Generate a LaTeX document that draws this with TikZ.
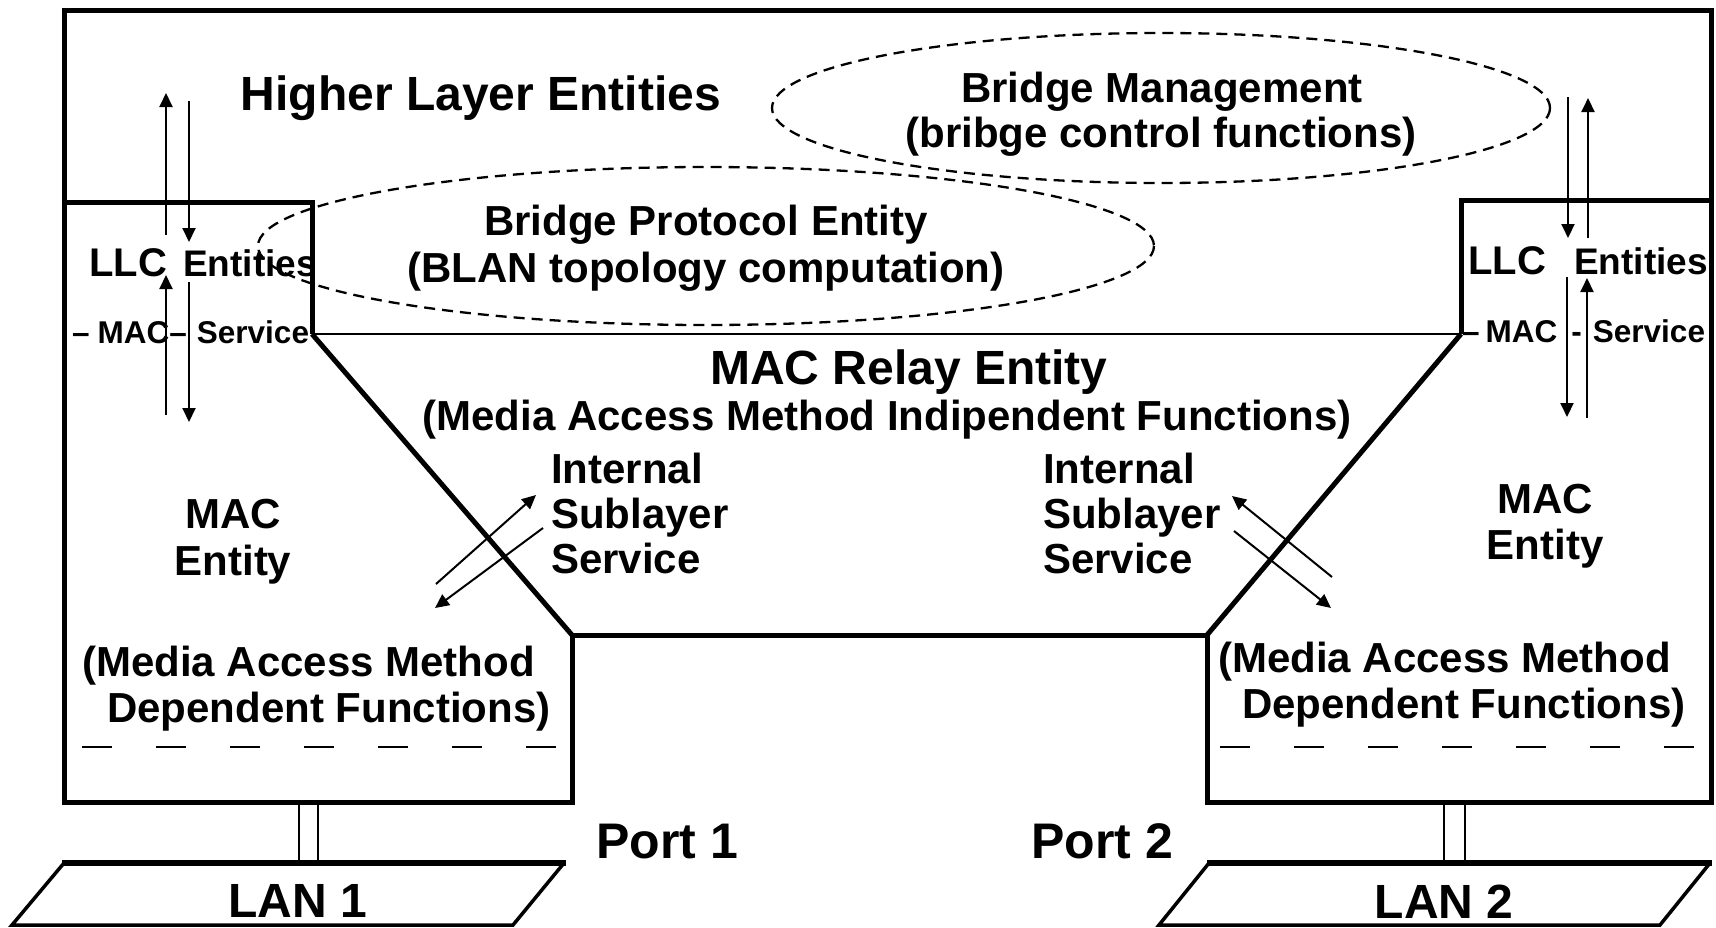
\documentclass[tikz,border=0pt]{standalone}
\usepackage{fontspec}
\setmainfont{Liberation Sans}
\usetikzlibrary{arrows.meta}
\begin{document}
\begin{tikzpicture}[x=1pt,y=-1pt,
  thickline/.style={line width=5pt, line join=miter, line cap=butt},
  relayline/.style={line width=2.8pt},
  lanline/.style={line width=3.5pt, line join=miter},
  arr/.style={line width=2pt, -{Triangle[length=14pt,width=13pt]}},
  thinline/.style={line width=2pt},
  ell/.style={line width=2.3pt, dash pattern=on 11pt off 7pt},
  macdash/.style={line width=2.2pt, dash pattern=on 30pt off 44pt},
  lbl/.style={inner sep=0pt, font=\bfseries\fontsize{42}{44}\selectfont},
  biglbl/.style={inner sep=0pt, font=\bfseries\fontsize{48}{50}\selectfont},
  portlbl/.style={inner sep=0pt, font=\bfseries\fontsize{50}{52}\selectfont},
  llclbl/.style={inner sep=0pt, font=\bfseries\fontsize{40}{42}\selectfont},
  entlbl/.style={inner sep=0pt, font=\bfseries\fontsize{37}{40}\selectfont},
  smlbl/.style={inner sep=0pt, font=\bfseries\fontsize{31.5}{33}\selectfont}
]
\useasboundingbox (0,0) rectangle (1716,927);

% ---- outer frame ----
\draw[thickline] (64,10) -- (1711,10) -- (1711,802) -- (1207,802) -- (1207,635)
  -- (572,635) -- (572,802) -- (64,802) -- cycle;
% LLC boxes
\draw[thickline] (64,202) -- (312,202) -- (312,334);
\draw[thickline] (1711,200) -- (1461,200) -- (1461,334);
% relay trapezoid
\draw[relayline] (312,334) -- (1461,334);
\draw[thickline] (312,334) -- (572,635);
\draw[thickline] (1461,334) -- (1207,635);

% dashed lines in MAC boxes
\draw[macdash] (82,747) -- (560,747);
\draw[macdash] (1220,747) -- (1698,747);

% port connectors (double lines)
\draw[thinline] (299,802) -- (299,863);
\draw[thinline] (318,802) -- (318,863);
\draw[thinline] (1444,802) -- (1444,863);
\draw[thinline] (1465,802) -- (1465,863);

% LAN parallelograms
\draw[lanline] (564,863) -- (513,925) -- (12,925) -- (64,863);
\draw[line width=6pt] (62,863) -- (566,863);
\draw[lanline] (1710,863) -- (1660,925) -- (1159,925) -- (1209,863);
\draw[line width=6pt] (1207,863) -- (1712,863);

% ellipses
\draw[ell] (1161,108) ellipse (389 and 75);
\draw[ell] (706,246) ellipse (448 and 79);

% ---- texts ----
\node[biglbl, anchor=base] (hle) at (481,110) {Higher Layer Entities};
\node[lbl, anchor=base] (bm1) at (1162,102) {Bridge Management};
\node[lbl, anchor=base] (bm2) at (1161,147) {(bribge control functions)};
\node[lbl, anchor=base] (bp1) at (706,235) {Bridge Protocol Entity};
\node[lbl, anchor=base] (bp2) at (706,282) {(BLAN topology computation)};
\node[biglbl, anchor=base] (mr1) at (909,384) {MAC Relay Entity};
\node[lbl, anchor=base] (mr2) at (887,430) {(Media Access Method Indipendent Functions)};

\node[llclbl, anchor=base west] (llcL) at (89,276) {LLC};
\node[entlbl, anchor=base west] (entL) at (183,276) {Entities};
\node[llclbl, anchor=base west] (llcR) at (1468,274) {LLC};
\node[entlbl, anchor=base west] (entR) at (1574,274) {Entities};
\node[smlbl, anchor=base west] (msL) at (72,343) {–\hspace{8pt}MAC–\hspace{10pt}Service};
\node[smlbl, anchor=base west] (msR) at (1462,342) {–\hspace{6pt}MAC\hspace{14pt}-\hspace{11pt}Service};

\node[lbl, anchor=base] (meL1) at (233,528) {MAC};
\node[lbl, anchor=base] (meL2) at (233,575) {Entity};
\node[lbl, anchor=base] (meR1) at (1545,513) {MAC};
\node[lbl, anchor=base] (meR2) at (1545,559) {Entity};

\node[lbl, anchor=base west] (isL1) at (551,483) {Internal};
\node[lbl, anchor=base west] (isL2) at (551,528) {Sublayer};
\node[lbl, anchor=base west] (isL3) at (551,573) {Service};
\node[lbl, anchor=base west] (isR1) at (1043,483) {Internal};
\node[lbl, anchor=base west] (isR2) at (1043,528) {Sublayer};
\node[lbl, anchor=base west] (isR3) at (1043,573) {Service};

\node[lbl, anchor=base west] (mdL1) at (82,676) {(Media Access Method};
\node[lbl, anchor=base west] (mdL2) at (107,722) {Dependent Functions)};
\node[lbl, anchor=base west] (mdR1) at (1218,672) {(Media Access Method};
\node[lbl, anchor=base west] (mdR2) at (1242,718) {Dependent Functions)};

\node[portlbl, anchor=base] (p1) at (667,858) {Port 1};
\node[portlbl, anchor=base] (p2) at (1102,858) {Port 2};
\node[biglbl, anchor=base] (lan1) at (298,917) {LAN 1};
\node[biglbl, anchor=base] (lan2) at (1444,918) {LAN 2};

% ---- arrows ----
\coordinate (lu1s) at (166,235); \coordinate (lu1e) at (166,93);
\coordinate (ld1s) at (189,101); \coordinate (ld1e) at (189,242);
\coordinate (lu2s) at (166,415); \coordinate (lu2e) at (166,275);
\coordinate (ld2s) at (189,282); \coordinate (ld2e) at (189,422);
\draw[arr] (lu1s) -- (lu1e);
\draw[arr] (ld1s) -- (ld1e);
\draw[arr] (lu2s) -- (lu2e);
\draw[arr] (ld2s) -- (ld2e);

\coordinate (rd1s) at (1568,97);  \coordinate (rd1e) at (1568,238);
\coordinate (ru1s) at (1588,238); \coordinate (ru1e) at (1588,98);
\coordinate (rd2s) at (1567,277); \coordinate (rd2e) at (1567,417);
\coordinate (ru2s) at (1587,418); \coordinate (ru2e) at (1587,278);
\draw[arr] (rd1s) -- (rd1e);
\draw[arr] (ru1s) -- (ru1e);
\draw[arr] (rd2s) -- (rd2e);
\draw[arr] (ru2s) -- (ru2e);

\coordinate (dl1s) at (436,584); \coordinate (dl1e) at (536,495);
\coordinate (dl2s) at (543,528); \coordinate (dl2e) at (435,608);
\draw[arr] (dl1s) -- (dl1e);
\draw[arr] (dl2s) -- (dl2e);

\coordinate (dr1s) at (1332,577); \coordinate (dr1e) at (1232,496);
\coordinate (dr2s) at (1234,531); \coordinate (dr2e) at (1331,608);
\draw[arr] (dr1s) -- (dr1e);
\draw[arr] (dr2s) -- (dr2e);
\end{tikzpicture}
\end{document}
